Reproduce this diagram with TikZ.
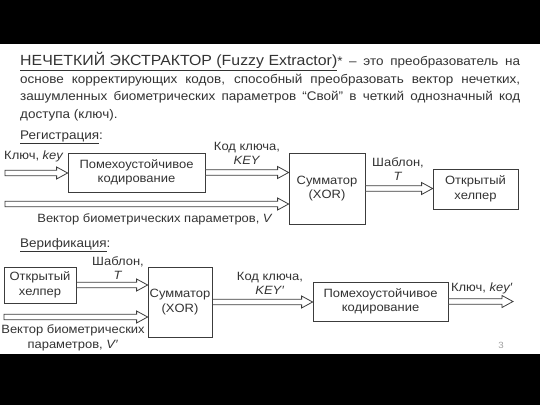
\documentclass[tikz,border=0pt]{standalone}
\usepackage{fontspec}
\setmainfont{Liberation Sans}[FakeStretch=1.08]
\usetikzlibrary{calc, positioning}
\definecolor{textgray}{RGB}{51,51,51}
\definecolor{linegray}{RGB}{60,60,60}
\definecolor{pagegray}{RGB}{160,160,160}

% hollow block arrow from the first point to the x of the second
\newcommand{\fatarrow}[2]{%
  \draw[hollow] let \p1=(#1), \p2=(#2) in
    (\x1,\y1+2.8pt) -- (\x2-11pt,\y1+2.8pt) -- (\x2-11pt,\y1+6pt) -- (\x2,\y1)
    -- (\x2-11pt,\y1-6pt) -- (\x2-11pt,\y1-2.8pt) -- (\x1,\y1-2.8pt) -- cycle;}

\begin{document}
\begin{tikzpicture}[x=1pt, y=-1pt, text=textgray,
  % Node styles
  blockbox/.style={
    rectangle,
    draw=linegray,
    line width=0.8pt,
    fill=white,
    align=center,
    inner sep=0pt,
    font=\fontsize{12}{14.5}\selectfont
  },
  label/.style={
    align=center,
    inner sep=0pt,
    font=\fontsize{12}{14}\selectfont
  },
  hollow/.style={
    draw=linegray,
    line width=0.8pt,
    fill=white,
    line join=miter
  }
]
\useasboundingbox (0,0) rectangle (540,405);
\fill[black] (0,0) rectangle (540,44);
\fill[black] (0,354) rectangle (540,405);

% ===== DEFINITION =====
\node[anchor=north west, text width=500pt, align=justify, inner sep=0pt,
      font=\fontsize{12.5}{17.5}\selectfont] (intro) at (20,52.5)
  {\underline{\fontsize{14.7}{17.5}\selectfont НЕЧЕТКИЙ ЭКСТРАКТОР (Fuzzy Extractor)}* -- это преобразователь на основе корректирующих кодов, способный преобразовать вектор нечетких, зашумленных биометрических параметров “Свой” в четкий однозначный код доступа (ключ).};

% ===== REGISTRATION =====
\node[label, anchor=west, font=\fontsize{12.5}{14}\selectfont] (reg) at (20,137) {\underline{Регистрация}:};

\node[blockbox, minimum width=137pt, minimum height=39pt] (enc1) at (136.5,172.5) {Помехоустойчивое\\кодирование};
\node[blockbox, minimum width=76pt, minimum height=71pt] (xor1) at (327,188.5) {Сумматор\\(XOR)};
\node[blockbox, minimum width=85pt, minimum height=40pt] (help1) at (475.5,189) {Открытый\\хелпер};

\coordinate (key1) at (5,173);
\coordinate (v1) at (5,204);

\node[label, anchor=west] (lkey1) at (4,156) {Ключ, \textit{key}};
\node[label] (lcode1) at (247,153) {Код ключа,\\\textit{KEY}};
\node[label] (lvec1) at (155,219) {Вектор биометрических параметров, \textit{V}};
\node[label] (ltpl1) at (398,169.5) {Шаблон,\\\textit{T}};

\fatarrow{key1}{enc1.west}
\fatarrow{enc1.east}{xor1.west}
\fatarrow{v1}{xor1.west}
\fatarrow{xor1.east}{help1.west}

% ===== VERIFICATION =====
\node[label, anchor=west, font=\fontsize{12.5}{14}\selectfont] (ver) at (20,245) {\underline{Верификация}:};

\node[blockbox, minimum width=72pt, minimum height=36pt] (help2) at (40,285) {Открытый\\хелпер};
\node[blockbox, minimum width=64pt, minimum height=70pt] (xor2) at (180,302) {Сумматор\\(XOR)};
\node[blockbox, minimum width=135pt, minimum height=39pt] (enc2) at (380.5,301.5) {Помехоустойчивое\\кодирование};

\coordinate (v2) at (4,317);
\coordinate (key2) at (513,302);

\node[label] (ltpl2) at (118,268.5) {Шаблон,\\\textit{T}};
\node[label, font=\fontsize{12}{15}\selectfont] (lvec2) at (73,337.5) {Вектор биометрических\\параметров, \textit{V}′};
\node[label] (lcode2) at (270,283) {Код ключа,\\\textit{KEY}′};
\node[label] (lkey2) at (482,288) {Ключ, \textit{key}′};

\fatarrow{help2.east}{xor2.west}
\fatarrow{v2}{xor2.west}
\fatarrow{xor2.east}{enc2.west}
\fatarrow{enc2.east}{key2}

% page number
\node[label, text=pagegray, font=\fontsize{9}{10}\selectfont] (page) at (501,345) {3};

\end{tikzpicture}
\end{document}
